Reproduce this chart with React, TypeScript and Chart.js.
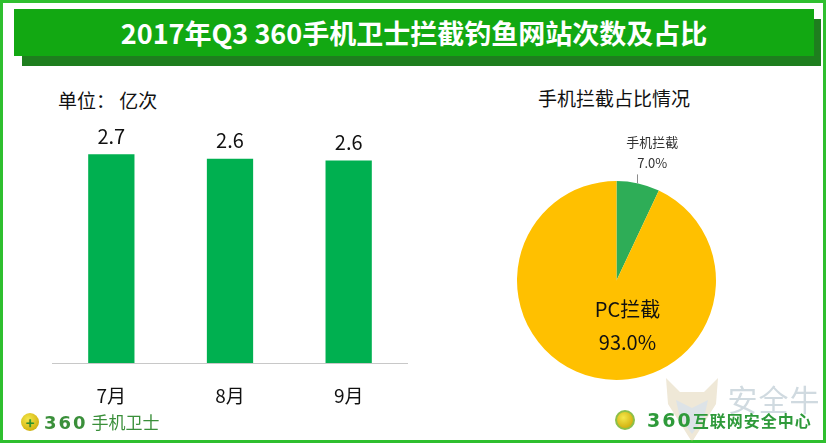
import React, { useEffect, useRef } from "react";
import { Chart, registerables } from "chart.js";

Chart.register(...registerables);

const FONT = '"Noto Sans CJK SC", "Noto Sans", sans-serif';

const titleText = "2017年Q3 360手机卫士拦截钓鱼网站次数及占比";
const unitText = "单位： 亿次";
const pieTitle = "手机拦截占比情况";
const months = ["7月", "8月", "9月"];
const interceptions = [2.7, 2.64, 2.62];
const shareLabels = ["手机拦截", "PC拦截"];
const shareValues = [7.0, 93.0];
const shareColors = ["#2EAD57", "#FFC000"];
const barColor = "#00B050";

function BarChart() {
  const ref = useRef<HTMLCanvasElement>(null);
  useEffect(() => {
    const valueLabels = {
      id: "valueLabels",
      afterDatasetsDraw(chart: any) {
        const ctx = chart.ctx;
        const meta = chart.getDatasetMeta(0);
        ctx.save();
        ctx.font = `20px ${FONT}`;
        ctx.fillStyle = "#111";
        ctx.textAlign = "center";
        ctx.textBaseline = "middle";
        meta.data.forEach((el: any, i: number) => {
          const v = chart.data.datasets[0].data[i] as number;
          ctx.fillText(v.toFixed(1), el.x, el.y - 18);
        });
        ctx.restore();
      },
    };
    const chart = new Chart(ref.current!, {
      type: "bar",
      data: {
        labels: months,
        datasets: [
          {
            data: interceptions,
            backgroundColor: barColor,
            barPercentage: 0.39,
            categoryPercentage: 1,
          },
        ],
      },
      options: {
        responsive: false,
        animation: false,
        layout: { padding: { top: 31, left: 0, right: 0, bottom: 0 } },
        plugins: { legend: { display: false }, tooltip: { enabled: false } },
        scales: {
          x: {
            grid: { display: false, drawTicks: false },
            border: { display: true, color: "#C8C8C8", width: 1 },
            ticks: { color: "#111", font: { family: FONT, size: 19 }, padding: 21 },
            afterFit: (s: any) => {
              s.height = 50;
            },
          },
          y: { display: false, min: 0, max: 3 },
        },
      },
      plugins: [valueLabels],
    });
    return () => chart.destroy();
  }, []);
  return (
    <canvas
      ref={ref}
      width={356}
      height={313}
      style={{ position: "absolute", left: 52, top: 100, width: 356, height: 313 }}
    />
  );
}

function PieChart() {
  const ref = useRef<HTMLCanvasElement>(null);
  useEffect(() => {
    const pieLabels = {
      id: "pieLabels",
      afterDatasetsDraw(chart: any) {
        const ctx = chart.ctx;
        const meta = chart.getDatasetMeta(0);
        const vals = chart.data.datasets[0].data as number[];
        const labels = chart.data.labels as string[];
        const small: any = meta.data[0];
        const big: any = meta.data[1];
        ctx.save();
        ctx.textAlign = "center";
        ctx.textBaseline = "middle";
        const mid = (small.startAngle + small.endAngle) / 2;
        const ex = small.x + Math.cos(mid) * small.outerRadius;
        const ey = small.y + Math.sin(mid) * small.outerRadius;
        ctx.strokeStyle = "#8C8C8C";
        ctx.lineWidth = 1;
        ctx.beginPath();
        ctx.moveTo(Math.round(ex - 1) + 0.5, ey - 9);
        ctx.lineTo(Math.round(ex - 1) + 0.5, ey);
        ctx.stroke();
        ctx.fillStyle = "#333";
        ctx.font = `13px ${FONT}`;
        ctx.fillText(labels[0], ex + 14, ey - 41);
        ctx.fillText(vals[0].toFixed(1) + "%", ex + 14, ey - 20);
        ctx.fillStyle = "#111";
        ctx.font = `20px ${FONT}`;
        ctx.fillText(labels[1], big.x + 11, big.y + 29);
        ctx.fillText(vals[1].toFixed(1) + "%", big.x + 11, big.y + 62);
        ctx.restore();
      },
    };
    const chart = new Chart(ref.current!, {
      type: "pie",
      data: {
        labels: shareLabels,
        datasets: [
          {
            data: shareValues,
            backgroundColor: shareColors,
            borderWidth: 0,
          },
        ],
      },
      options: {
        responsive: false,
        animation: false,
        layout: { padding: { top: 61, left: 17, right: 18, bottom: 20 } },
        plugins: { legend: { display: false }, tooltip: { enabled: false } },
      },
      plugins: [pieLabels],
    });
    return () => chart.destroy();
  }, []);
  return (
    <canvas
      ref={ref}
      width={234}
      height={280}
      style={{ position: "absolute", left: 500, top: 120, width: 234, height: 280 }}
    />
  );
}

const centerText = (x: number, y: number, extra: React.CSSProperties = {}): React.CSSProperties => ({
  position: "absolute",
  left: x,
  top: y,
  transform: "translate(-50%, -50%)",
  whiteSpace: "nowrap",
  fontFamily: FONT,
  lineHeight: 1,
  ...extra,
});

export default function App() {
  return (
    <div
      style={{
        position: "fixed",
        left: 0,
        top: 0,
        width: 828,
        height: 443,
        background: "#fff",
        overflow: "hidden",
        fontFamily: FONT,
      }}
    >
      <div
        style={{
          position: "absolute",
          left: 0,
          top: 0,
          width: 826,
          height: 443,
          boxSizing: "border-box",
          border: "3px solid #2FBF2F",
        }}
      />
      <div style={{ position: "absolute", left: 22, top: 19, width: 799, height: 47, background: "#1E7E1E" }} />
      <div
        style={{
          position: "absolute",
          left: 14,
          top: 9,
          width: 800,
          height: 47,
          background: "#12A812",
          color: "#fff",
          fontWeight: 700,
          fontSize: 27,
          lineHeight: "47px",
          textAlign: "center",
          fontFamily: FONT,
          whiteSpace: "nowrap",
        }}
      >
        {titleText}
      </div>

      <div style={{ ...centerText(58, 99, { fontSize: 19, color: "#111" }), transform: "translate(0, -50%)" }}>
        {unitText}
      </div>
      <div style={centerText(614, 97, { fontSize: 19, color: "#111" })}>{pieTitle}</div>

      <BarChart />
      <PieChart />

      <svg
        width={60}
        height={70}
        viewBox="0 0 60 70"
        style={{ position: "absolute", left: 662, top: 374, opacity: 0.3 }}
      >
        <path d="M4 4 L18 18 L42 18 L56 4 L54 30 L30 68 L6 30 Z" fill="#C9B27A" />
        <path d="M14 26 L30 34 L46 26 L42 44 L30 60 L18 44 Z" fill="#8FA3AE" />
      </svg>
      <div style={centerText(774, 398, { fontSize: 30, color: "rgba(150,172,186,0.45)", letterSpacing: 1 })}>
        安全牛
      </div>

      <div
        style={{
          position: "absolute",
          left: 21,
          top: 413,
          width: 18,
          height: 18,
          borderRadius: "50%",
          background: "radial-gradient(circle at 40% 35%, #F4E84A, #D4B414 70%, #8AB020)",
        }}
      >
        <div style={centerText(9, 9, { fontSize: 15, fontWeight: 700, color: "#2F8F2F" })}>+</div>
      </div>
      <div
        style={{
          position: "absolute",
          left: 44,
          top: 413,
          fontSize: 17,
          fontWeight: 700,
          color: "#3A8F3A",
          whiteSpace: "nowrap",
          lineHeight: "18px",
          fontFamily: FONT,
        }}
      >
        <span style={{ fontFamily: '"DejaVu Sans", sans-serif', letterSpacing: 2, fontSize: 18 }}>360</span>
        <span style={{ fontWeight: 400, marginLeft: 4 }}>手机卫士</span>
      </div>

      <div
        style={{
          position: "absolute",
          left: 615,
          top: 410,
          width: 20,
          height: 20,
          borderRadius: "50%",
          border: "2px solid #8CC04A",
          boxSizing: "border-box",
          background: "radial-gradient(circle at 40% 35%, #F4E84A, #D4B414 70%)",
        }}
      />
      <div
        style={{
          position: "absolute",
          left: 647,
          top: 411,
          fontSize: 16,
          fontWeight: 700,
          color: "#2E9A3A",
          whiteSpace: "nowrap",
          lineHeight: "18px",
          fontFamily: FONT,
        }}
      >
        <span style={{ fontFamily: '"DejaVu Sans", sans-serif', letterSpacing: 2, fontSize: 19 }}>360</span>
        <span style={{ letterSpacing: 1 }}>互联网安全中心</span>
      </div>
    </div>
  );
}
